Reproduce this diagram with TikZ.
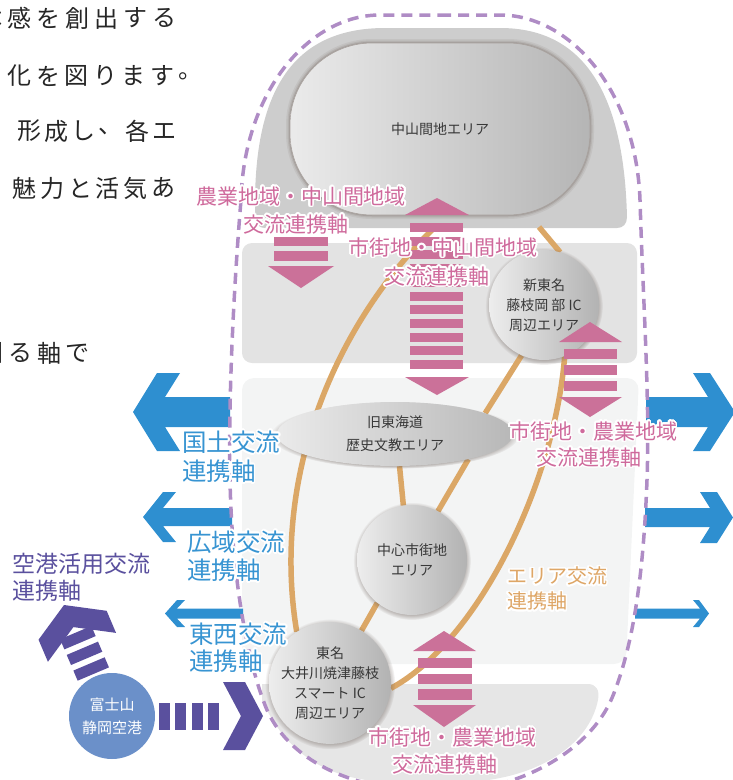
\documentclass[tikz,border=0pt]{standalone}
\usepackage{fontspec}
\setmainfont{Noto Sans CJK JP}
\usepackage[copies]{contour}
\contourlength{1.6pt}
\contournumber{24}
\usetikzlibrary{shapes.geometric,shadows,calc}
\pgfdeclarelayer{back}
\pgfdeclarelayer{lines}
\pgfsetlayers{back,lines,main}

\definecolor{pinkA}{HTML}{CB7199}
\definecolor{pinkT}{HTML}{CF6A9C}
\definecolor{blueA}{HTML}{2E8FD0}
\definecolor{blueT}{HTML}{3794D2}
\definecolor{purpD}{HTML}{AF8CC5}
\definecolor{purpA}{HTML}{5A509E}
\definecolor{orgL}{HTML}{DBA766}
\definecolor{orgT}{HTML}{DEA666}
\definecolor{bandA}{HTML}{CDCDCD}
\definecolor{bandB}{HTML}{E3E3E3}
\definecolor{bandC}{HTML}{F3F4F4}
\definecolor{bandD}{HTML}{E6E6E6}
\definecolor{fujiC}{HTML}{6B90C9}
\definecolor{nodeT}{HTML}{383838}
\definecolor{shadowC}{HTML}{6E625C}

\tikzset{
  areaball/.style={circle, inner sep=0pt, minimum size=110pt, align=center,
    text=nodeT, font=\fontsize{14}{20}\selectfont,
    left color=black!7, right color=black!30,
    circular drop shadow={shadow xshift=0pt, shadow yshift=-1pt, shadow scale=1.07, fill=shadowC, opacity=0.7}},
  ellnode/.style={ellipse, inner sep=0pt, minimum width=236pt, minimum height=64pt, align=center,
    text=nodeT, font=\fontsize{14}{23}\selectfont,
    left color=black!8, right color=black!28,
    circular drop shadow={shadow xshift=0pt, shadow yshift=-1pt, shadow scale=1.05, fill=shadowC, opacity=0.7}},
  stadium/.style={rectangle, rounded corners=82pt, inner sep=0pt, minimum width=300pt, minimum height=172pt,
    text=nodeT, font=\fontsize{14}{20}\selectfont,
    left color=black!8, right color=black!29, draw=shadowC!60, line width=0.6pt},
  stadshade/.style={draw=shadowC, rounded corners=82pt},
  fujinode/.style={circle, inner sep=0pt, minimum size=86pt, fill=fujiC, text=white, align=center,
    font=\fontsize{15}{23}\selectfont},
  orgline/.style={draw=orgL, line width=5.5pt},
  plab/.style={inner sep=0pt, text=pinkT, font=\fontsize{21}{21}\selectfont},
  blab/.style={inner sep=0pt, anchor=west, text=blueT, font=\fontsize{24.5}{25}\selectfont},
  vlab/.style={inner sep=0pt, anchor=west, text=purpA, font=\fontsize{23}{23}\selectfont},
  olab/.style={inner sep=0pt, anchor=west, text=orgT, font=\fontsize{20}{20}\selectfont},
  bodych/.style={inner sep=0pt, text=black!85, font=\fontsize{24}{24}\selectfont},
}

\begin{document}
\begin{tikzpicture}[x=1pt,y=-1pt]
\useasboundingbox (0,0) rectangle (733,780);

% ---------- background bands ----------
\begin{pgfonlayer}{back}
\fill[bandA] (265,228) -- (617,228) .. controls (623,228) and (627,224) .. (627,217)
  .. controls (624,95) and (585,28) .. (500,28) -- (385,28)
  .. controls (290,28) and (256,95) .. (255,200) -- (255,217)
  .. controls (255,224) and (259,228) .. (265,228) -- cycle;
\fill[bandB, rounded corners=10pt] (242,243) rectangle (637,363);
\fill[bandC, rounded corners=12pt] (242,378) -- (639,378) -- (626,664) -- (242,664) -- cycle;
\fill[bandD] (262,684) -- (588,684) .. controls (596,684) and (600,690) .. (598,700)
  .. controls (590,740) and (550,768) .. (500,778) .. controls (460,786) and (400,786) .. (360,779)
  .. controls (310,770) and (280,740) .. (262,700) -- cycle;
% soft edge of the mountain-area node
\draw[stadshade, line width=8pt, opacity=0.10] (290,43) rectangle (590,215);
\draw[stadshade, line width=5pt, opacity=0.14] (290,43) rectangle (590,215);
\draw[stadshade, line width=2.5pt, opacity=0.22] (290,43) rectangle (590,215);
\end{pgfonlayer}

% ---------- area nodes ----------
\node[stadium] (chuzan) at (440,129) {中山間地エリア};
\node[areaball] (shin) at (544,305) {新東名\\藤枝岡 部 IC\\周辺エリア};
\node[ellnode] (kyu) at (395,434) {旧東海道\\歴史文教エリア};
\node[areaball] (chu) at (412,560) {中心市街地\\エリア};
\node[areaball] (tomei) at (330,683) {東名\\大井川焼津藤枝\\スマート IC\\周辺エリア};
\node[fujinode] (fuji) at (112,716) {富士山\\静岡空港};

\coordinate (c1) at (433,229);
\coordinate (c2) at (539,227);

% ---------- area connections ----------
\begin{pgfonlayer}{lines}
\draw[orgline] (c1) .. controls (340,320) and (270,470) .. (tomei.123);
\draw[orgline] (c2) -- (shin.73);
\draw[orgline] (shin.246) -- (kyu.13);
\draw[orgline] (kyu.278) -- (chu.99);
\draw[orgline] (kyu.341) -- (chu.62);
\draw[orgline] (chu.231) -- (tomei.59);
\draw[orgline] (shin.292) .. controls (555,480) and (480,640) .. (tomei.355);
\end{pgfonlayer}

% ---------- pink arrows ----------
\fill[pinkA] (274,237) rectangle (328,246);
\fill[pinkA] (274,251) rectangle (328,261);
\fill[pinkA] (268,266) -- (334,266) -- (301,288) -- cycle;

\fill[pinkA] (437,198) -- (469,215) -- (405,215) -- cycle;
\foreach \k in {0,...,10} \fill[pinkA] (410,{223+13.7*\k}) rectangle (463,{232+13.7*\k});
\fill[pinkA] (405,377) -- (469,377) -- (437,395) -- cycle;

\fill[pinkA] (590,322) -- (622,342) -- (559,342) -- cycle;
\fill[pinkA] (564,349) rectangle (617,359);
\fill[pinkA] (564,365) rectangle (617,375);
\fill[pinkA] (564,381) rectangle (617,391);
\fill[pinkA] (559,397) -- (622,397) -- (590,417) -- cycle;

\fill[pinkA] (444,631) -- (476,651) -- (413,651) -- cycle;
\fill[pinkA] (418,658) rectangle (472,668);
\fill[pinkA] (418,674) rectangle (472,684);
\fill[pinkA] (418,689) rectangle (472,700);
\fill[pinkA] (413,705) -- (476,705) -- (444,727) -- cycle;

% ---------- blue arrows ----------
\fill[blueA] (133,412) -- (157,373) -- (180,373) -- (165,397) -- (230,397) -- (230,427)
  -- (165,427) -- (180,451) -- (157,451) -- cycle;
\fill[blueA] (143,517) -- (163,492) -- (176,492) -- (163,508) -- (232,508) -- (232,526)
  -- (163,526) -- (176,542) -- (163,542) -- cycle;
\fill[blueA] (165,613.5) -- (177,600) -- (185,600) -- (177,608.5) -- (243,608.5) -- (243,618.5)
  -- (177,618.5) -- (185,627) -- (177,627) -- cycle;
\fill[blueA] (646,397) -- (708,397) -- (693,373) -- (710,373) -- (735,412) -- (710,451)
  -- (693,451) -- (708,427) -- (646,427) -- cycle;
\fill[blueA] (645,508) -- (710,508) -- (700,492) -- (717,492) -- (733,517.5) -- (717,543)
  -- (700,543) -- (710,527) -- (645,527) -- cycle;
\fill[blueA] (635,608.5) -- (700,608.5) -- (693,600) -- (699,600) -- (709,613.5) -- (699,627)
  -- (693,627) -- (700,618.5) -- (635,618.5) -- cycle;

% ---------- purple airport arrows ----------
\foreach \x in {159,175.3,191.6,207.9} \fill[purpA] (\x,703) rectangle ({\x+11},730);
\fill[purpA] (223,682) -- (245,682) -- (263,716) -- (245,750) -- (223,750) -- (241,716) -- cycle;
\begin{scope}[shift={(64,605)}, rotate=23]
  \fill[purpA] (0,0) -- (37,22) -- (37,46) -- (0,24) -- (-37,46) -- (-37,22) -- cycle;
  \fill[purpA] (-17,30) rectangle (17,41);
  \fill[purpA] (-17,47) rectangle (17,58);
  \fill[purpA] (-17,64) rectangle (17,75);
\end{scope}

% ---------- study-area boundary ----------
\draw[purpD, line width=3.5pt, dash pattern=on 11pt off 7pt]
  (440,15) -- (500,15) .. controls (570,15) and (636,90) .. (640,200)
  .. controls (643,300) and (650,400) .. (647,480)
  .. controls (644,560) and (636,640) .. (612,698)
  .. controls (590,750) and (520,792) .. (440,792)
  .. controls (360,792) and (292,765) .. (267,710)
  .. controls (248,665) and (232,580) .. (230,480)
  .. controls (228,380) and (236,260) .. (241,200)
  .. controls (244,90) and (310,15) .. (380,15) -- cycle;

% ---------- labels ----------
\node[plab] at (301,197) {\contour{white}{農業地域・中山間地域}};
\node[plab] at (296,225) {\contour{white}{交流連携軸}};
\node[plab] at (443,248) {\contour{white}{市街地・中山間地域}};
\node[plab] at (437,277) {\contour{white}{交流連携軸}};
\node[plab] at (593,432) {\contour{white}{市街地・農業地域}};
\node[plab] at (589,458) {\contour{white}{交流連携軸}};
\node[plab] at (452,738) {\contour{white}{市街地・農業地域}};
\node[plab] at (445,765) {\contour{white}{交流連携軸}};

\node[blab] at (182,443) {\contour{white}{国土交流}};
\node[blab] at (182,472) {\contour{white}{連携軸}};
\node[blab] at (187,543) {\contour{white}{広域交流}};
\node[blab] at (187,571) {\contour{white}{連携軸}};
\node[blab] at (189,635) {\contour{white}{東西交流}};
\node[blab] at (189,662) {\contour{white}{連携軸}};

\node[vlab] at (12,565) {\contour{white}{空港活用交流}};
\node[vlab] at (12,592) {\contour{white}{連携軸}};

\node[olab] at (507,577) {\contour{white}{エリア交流}};
\node[olab] at (507,602) {\contour{white}{連携軸}};

% ---------- body text (cut by the page edge), set on a fixed character pitch ----------
\foreach \c [count=\i from 0] in {体,感,を,創,出,す,る}
  \node[bodych] at ({-9.5+29*\i},18) {\c};
\foreach \c [count=\i from 0] in {化,を,図,り,ま,す,。}
  \node[bodych] at ({19.5+28.5*\i},76) {\c};
\foreach \c [count=\i from 0] in {形,成,し,、,各,エ}
  \node[bodych] at ({29.5+27*\i},131) {\c};
\foreach \c [count=\i from 0] in {魅,力,と,活,気,あ}
  \node[bodych] at ({24.5+27.8*\i},188) {\c};
\foreach \c [count=\i from 0] in {図,る,軸,で}
  \node[bodych] at ({-8+28.5*\i},353) {\c};
\node[bodych] at (-9,628) {国};
\end{tikzpicture}
\end{document}
